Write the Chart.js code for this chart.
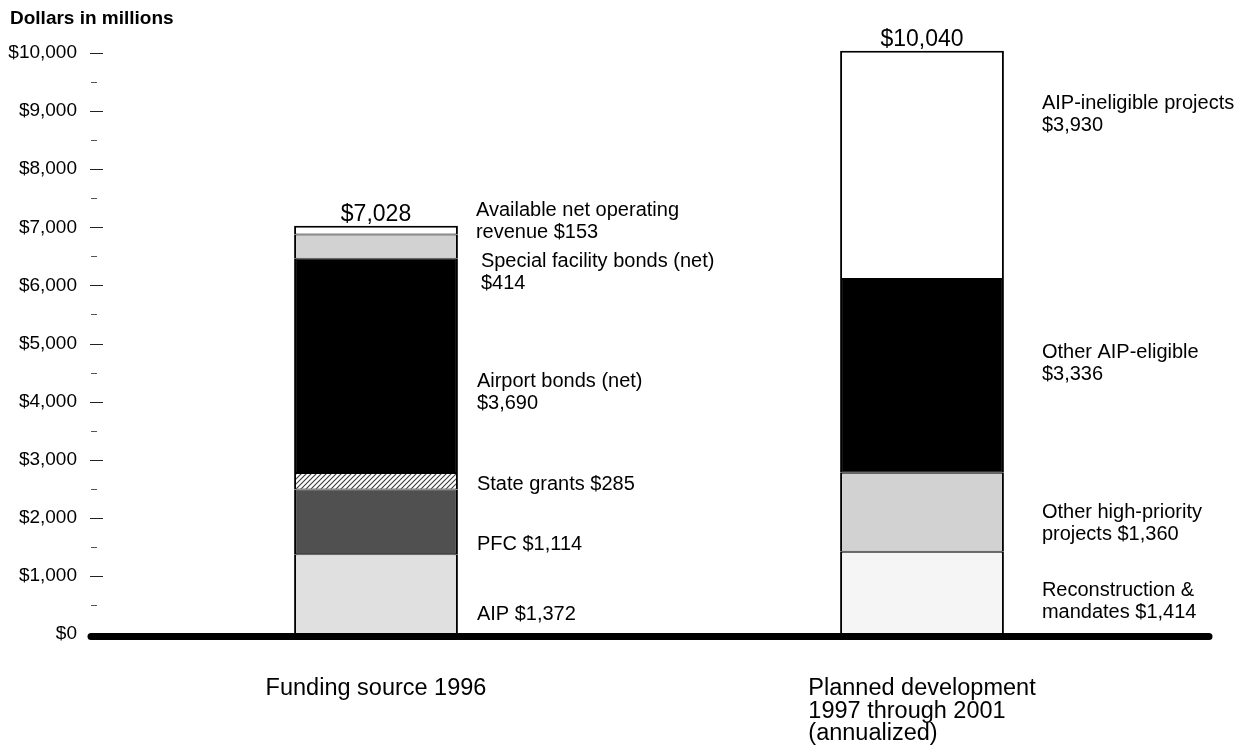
<!DOCTYPE html>
<html>
<head>
<meta charset="utf-8">
<script src="https://cdn.jsdelivr.net/npm/chart.js@4.4.1/dist/chart.umd.min.js"></script>
<style>
  html, body { margin: 0; padding: 0; background: #fff; }
  canvas { display: block; }
</style>
</head>
<body>
<canvas id="chart" width="1241" height="753"></canvas>
<script>
// Categories (one stacked bar each)
const categories = ['Funding source 1996', 'Planned development 1997 through 2001 (annualized)'];
const categoryLines = [['Funding source 1996'], ['Planned development', '1997 through 2001', '(annualized)']];

// Funding sources in 1996, bottom to top (dollars in millions)
const fundingNames = ['AIP', 'PFC', 'State grants', 'Airport bonds (net)', 'Special facility bonds (net)', 'Available net operating revenue'];
const fundingValues = [1372, 1114, 285, 3690, 414, 153];
const fundingLabels = [
  ['AIP $1,372'],
  ['PFC $1,114'],
  ['State grants $285'],
  ['Airport bonds (net)', '$3,690'],
  ['Special facility bonds (net)', '$414'],
  ['Available net operating', 'revenue $153']
];

// Planned development 1997 through 2001, annualized, bottom to top
const plannedNames = ['Reconstruction & mandates', 'Other high-priority projects', 'Other AIP-eligible', 'AIP-ineligible projects'];
const plannedValues = [1414, 1360, 3336, 3930];
const plannedLabels = [
  ['Reconstruction &', 'mandates $1,414'],
  ['Other high-priority', 'projects $1,360'],
  ['Other AIP-eligible', '$3,336'],
  ['AIP-ineligible projects', '$3,930']
];

// Bar totals
const totals = [7028, 10040];
const totalLabels = ['$7,028', '$10,040'];

// Axis: labelled every $1,000, minor marks every $500
const yMajorStep = 1000;
const yMinorStep = 500;
const yTop = 10000;

// Where each segment's text block sits, in axis units, and its gap from the bar edge (px)
const fundingLabelAt = [344, 1549, 2582, 4165, 6231, 7100];
const fundingLabelDx = [19, 19, 19, 19, 23, 18];
const plannedLabelAt = [568, 1910, 4664, 8950];
const plannedLabelDx = [38, 38, 38, 38];

// Fills
const fundingFills = ['#e0e0e0', '#505050', 'hatch', '#000000', '#d2d2d2', '#ffffff'];
const plannedFills = ['#f5f5f5', '#d2d2d2', '#000000', '#ffffff'];

const FONT = '"Liberation Sans", Arial, Helvetica, sans-serif';

function hatchPattern() {
  const size = 5;
  const c = document.createElement('canvas');
  c.width = size; c.height = size;
  const g = c.getContext('2d');
  g.fillStyle = '#ffffff';
  g.fillRect(0, 0, size, size);
  g.strokeStyle = '#3a3a3a';
  g.lineWidth = 1.1;
  g.beginPath();
  g.moveTo(0, size); g.lineTo(size, 0);
  g.moveTo(-1, 1); g.lineTo(1, -1);
  g.moveTo(size - 1, size + 1); g.lineTo(size + 1, size - 1);
  g.stroke();
  return g.createPattern(c, 'repeat');
}
const hatch = hatchPattern();

function fillOf(f) { return f === 'hatch' ? hatch : f; }

const datasets = [];
fundingValues.forEach((v, i) => {
  datasets.push({
    label: fundingNames[i],
    data: [v, null],
    backgroundColor: fillOf(fundingFills[i]),
    borderColor: '#000',
    borderWidth: { left: 2, right: 2, bottom: 1, top: i === fundingValues.length - 1 ? 2 : 1 },
    borderSkipped: false,
    stack: 's'
  });
});
plannedValues.forEach((v, i) => {
  datasets.push({
    label: plannedNames[i],
    data: [null, v],
    backgroundColor: fillOf(plannedFills[i]),
    borderColor: '#000',
    borderWidth: { left: 2, right: 2, bottom: 1, top: i === plannedValues.length - 1 ? 2 : 1 },
    borderSkipped: false,
    stack: 's'
  });
});

const annotate = {
  id: 'annotate',
  afterDraw(chart) {
    const ctx = chart.ctx;
    const x = chart.scales.x;
    const y = chart.scales.y;
    ctx.save();

    // Axis caption
    ctx.fillStyle = '#000';
    ctx.font = 'bold 19px ' + FONT;
    ctx.textAlign = 'left';
    ctx.textBaseline = 'middle';
    ctx.fillText('Dollars in millions', 10, 19);

    // Tick marks on the value axis
    y.ticks.forEach(t => {
      if (t.value === 0) return;
      const py = Math.round(y.getPixelForValue(t.value)) + 0.5;
      const major = t.value % yMajorStep === 0;
      ctx.strokeStyle = major ? '#222' : '#555';
      ctx.lineWidth = 1;
      ctx.beginPath();
      ctx.moveTo(major ? 90 : 91, py);
      ctx.lineTo(major ? 103 : 97, py);
      ctx.stroke();
    });

    // Heavy baseline at zero
    const y0 = y.getPixelForValue(0);
    ctx.strokeStyle = '#000';
    ctx.lineWidth = 7;
    ctx.lineCap = 'round';
    ctx.beginPath();
    ctx.moveTo(91, y0 + 2.5);
    ctx.lineTo(1209, y0 + 2.5);
    ctx.stroke();

    // Segment labels
    ctx.font = '20px ' + FONT;
    ctx.textAlign = 'left';
    ctx.textBaseline = 'middle';
    const lineH = 22;
    const drawBlock = (lines, left, cy) => {
      const start = cy - (lines.length - 1) * lineH / 2;
      lines.forEach((s, k) => ctx.fillText(s, left, start + k * lineH));
    };
    fundingLabels.forEach((lines, i) => {
      const bar = chart.getDatasetMeta(i).data[0];
      const edge = bar.x + bar.width / 2;
      drawBlock(lines, edge + fundingLabelDx[i], y.getPixelForValue(fundingLabelAt[i]));
    });
    plannedLabels.forEach((lines, i) => {
      const bar = chart.getDatasetMeta(fundingValues.length + i).data[1];
      const edge = bar.x + bar.width / 2;
      drawBlock(lines, edge + plannedLabelDx[i], y.getPixelForValue(plannedLabelAt[i]));
    });

    // Totals above each bar
    ctx.font = '23px ' + FONT;
    ctx.textAlign = 'center';
    ctx.textBaseline = 'alphabetic';
    totals.forEach((t, i) => {
      ctx.fillText(totalLabels[i], x.getPixelForValue(i), y.getPixelForValue(t) - 5);
    });

    // Category names under the axis, left-aligned as a block centred on the bar
    ctx.font = '23.5px ' + FONT;
    ctx.textAlign = 'left';
    ctx.textBaseline = 'middle';
    categoryLines.forEach((lines, i) => {
      const w = Math.max(...lines.map(s => ctx.measureText(s).width));
      const left = x.getPixelForValue(i) - w / 2;
      lines.forEach((s, k) => ctx.fillText(s, left, 689 + k * 22.5));
    });

    ctx.restore();
  }
};

new Chart(document.getElementById('chart'), {
  type: 'bar',
  data: { labels: categories, datasets },
  options: {
    responsive: false,
    animation: false,
    devicePixelRatio: 1,
    layout: { padding: { top: 24, bottom: 119, left: 0, right: 46 } },
    datasets: { bar: { categoryPercentage: 1, barPercentage: 0.3 } },
    plugins: { legend: { display: false }, tooltip: { enabled: false }, title: { display: false } },
    scales: {
      x: {
        stacked: true,
        offset: true,
        grid: { display: false, drawTicks: false },
        border: { display: false },
        ticks: { display: false },
        afterFit(s) { s.height = 0; }
      },
      y: {
        stacked: true,
        min: 0,
        max: yTop + yMinorStep,
        afterBuildTicks(s) { s.ticks = s.ticks.filter(t => t.value <= yTop); },
        grid: { display: false, drawTicks: false },
        border: { display: false },
        ticks: {
          stepSize: yMinorStep,
          autoSkip: false,
          padding: 26,
          color: '#000',
          font: { family: FONT, size: 19 },
          callback: v => (v % yMajorStep === 0 ? '$' + Number(v).toLocaleString('en-US') : '')
        },
        afterFit(s) {
          s.width = 103;
          s.paddingTop = 0;
          s.paddingBottom = 0;
        }
      }
    }
  },
  plugins: [annotate]
});
</script>
</body>
</html>
